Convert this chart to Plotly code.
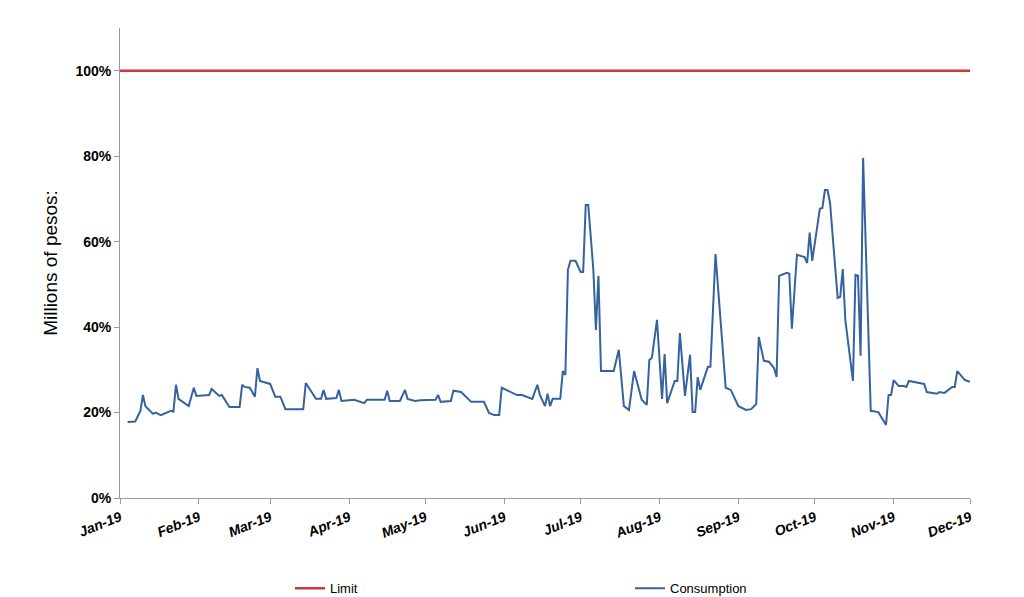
import plotly.graph_objects as go
import pandas as pd

# day of year (0 = 1 Jan 2019) and consumption in percent
days = [3, 6, 8, 9, 10, 13, 14, 16, 20, 21, 22, 23, 27, 29, 30, 35, 36, 39, 40, 41, 43, 47, 48, 49, 51, 53,
        54, 55, 58, 59, 61, 63, 65, 72, 73, 77, 79, 80, 81, 85, 86, 87, 92, 96, 97, 104, 105, 106, 110, 112,
        113, 116, 118, 124, 125, 126, 130, 131, 134, 138, 143, 145, 147, 149, 150, 154, 156, 158, 162, 164,
        165, 167, 168, 169, 170, 173, 174, 175, 176, 177, 179, 181, 182, 183, 184, 186, 187, 188, 189, 194,
        196, 198, 200, 202, 205, 207, 208, 209, 211, 213, 214, 215, 218, 219, 220, 222, 224, 225, 226, 227,
        228, 231, 232, 234, 238, 240, 243, 246, 248, 250, 251, 253, 255, 257, 258, 259, 262, 263, 264, 266,
        269, 270, 271, 272, 275, 276, 277, 278, 279, 282, 283, 284, 285, 288, 289, 290, 291, 292, 295, 298,
        301, 302, 303, 304, 306, 308, 309, 310, 316, 317, 321, 322, 324, 327, 328, 329, 332, 334]
values = [17.8, 17.9, 20.4, 24.1, 21.5, 19.7, 20, 19.4, 20.4, 20.2, 26.5, 23.2, 21.5, 25.8, 23.9, 24.1, 25.5,
          23.9, 24.1, 23.2, 21.3, 21.3, 26.5, 26, 25.8, 23.7, 30.4, 27.4, 26.9, 26.7, 23.7, 23.7, 20.8, 20.8,
          26.9, 23.2, 23.2, 25.3, 23.2, 23.4, 25.3, 22.7, 23, 22.2, 23, 23, 25.1, 22.7, 22.7, 25.3, 23.2, 22.7,
          22.9, 23, 24.1, 22.5, 22.7, 25.1, 24.8, 22.5, 22.5, 19.9, 19.4, 19.4, 25.8, 24.6, 24.1, 24.1, 23.2,
          26.5, 24.1, 21.5, 24.4, 21.5, 23.2, 23.2, 29.7, 28.8, 53.4, 55.5, 55.5, 52.9, 52.9, 68.6, 68.6, 53.4,
          39.3, 52, 29.7, 29.7, 34.7, 21.5, 20.6, 29.7, 23, 21.8, 32.3, 32.8, 41.7, 23.2, 33.7, 22.2, 27.4,
          27.4, 38.6, 23.9, 33.5, 20.1, 20.1, 28.3, 25.3, 30.7, 30.7, 57.1, 25.8, 25.3, 21.5, 20.6, 20.8, 22,
          37.7, 32.1, 31.9, 30.4, 28.3, 52, 52.7, 52.5, 39.6, 56.9, 56.4, 55, 62.1, 55.5, 67.7, 67.9, 72.1,
          72.1, 69.1, 46.8, 47.1, 53.6, 41.7, 27.4, 52.2, 52, 33.3, 79.6, 20.4, 20.1, 17.1, 24.1, 24.1, 27.6,
          26.2, 26.2, 26, 27.4, 26.7, 24.8, 24.4, 24.8, 24.6, 26, 26, 29.7, 27.6, 27.2]

df = pd.DataFrame({'date': pd.Timestamp('2019-01-01') + pd.to_timedelta(days, unit='D'),
                   'value': [v / 100 for v in values]})

fig = go.Figure()
fig.add_trace(go.Scatter(x=['2019-01-01', '2019-12-01'], y=[1, 1], mode='lines', name='Limit',
                         line=dict(color='#d2353b', width=2.5)))
fig.add_trace(go.Scatter(x=df['date'], y=df['value'], mode='lines', name='Consumption',
                         line=dict(color='#3563a0', width=2)))

fig.update_layout(
    width=1024, height=597, plot_bgcolor='white', paper_bgcolor='white',
    margin=dict(l=112, r=62, t=20, b=107, autoexpand=False),
    font=dict(family='Liberation Sans, Arial', color='black'),
    legend=dict(orientation='h', x=0.2, y=-0.16, xanchor='left', yanchor='top',
                font=dict(size=13), entrywidthmode='fraction', entrywidth=0.4),
)
fig.update_xaxes(range=['2019-01-01', '2019-12-01'], tickformat='%b-%y', dtick='M1',
                 tick0='2019-01-01', tickangle=-22, showgrid=False, showline=True,
                 linecolor='#999999', ticks='outside', tickcolor='#999999', automargin=False,
                 tickfont=dict(size=14, family='Liberation Sans', weight='bold', style='italic'))
fig.update_yaxes(range=[0, 1.1], tickvals=[0, 0.2, 0.4, 0.6, 0.8, 1.0], tickformat='.0%',
                 showgrid=False, showline=True, linecolor='#999999', ticks='outside',
                 tickcolor='#999999', zeroline=False, automargin=False,
                 tickfont=dict(size=14, family='Liberation Sans', weight='bold'),
                 title=dict(text='Millions of pesos:', font=dict(size=19), standoff=12))

fig.write_html("out.html")
